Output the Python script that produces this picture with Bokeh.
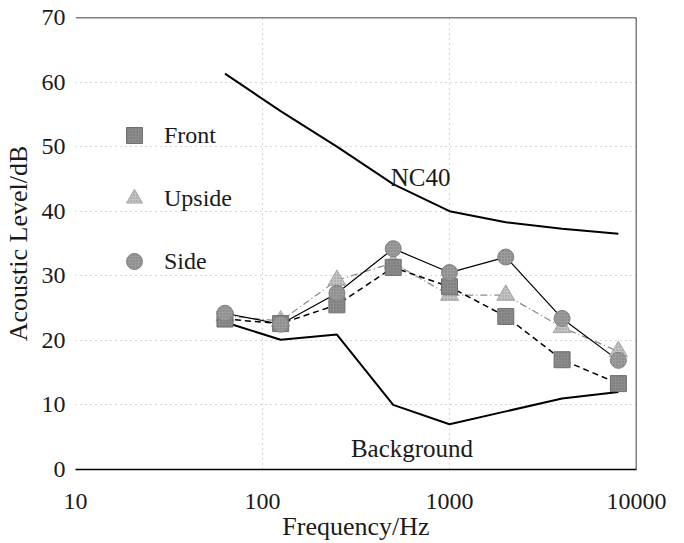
from bokeh.plotting import figure
from bokeh.models import (FixedTicker, NumeralTickFormatter, Span, Legend, LegendItem,
                          Label)
from bokeh.embed import file_html
from bokeh.resources import INLINE

# ---- data ----
freq = [63, 125, 250, 500, 1000, 2000, 4000, 8000]
nc40 = [61.3, 55.5, 50.0, 44.2, 40.0, 38.3, 37.3, 36.5]
background = [22.8, 20.1, 20.9, 10.0, 7.0, 9.0, 11.0, 12.0]
front = [23.3, 22.6, 25.5, 31.3, 28.3, 23.7, 17.0, 13.3]
upside = [23.8, 23.0, 29.3, 32.0, 27.0, 27.0, 22.0, 18.3]
side = [24.2, 22.5, 27.3, 34.2, 30.5, 32.9, 23.4, 16.9]
x_ticks = [10, 100, 1000, 10000]
y_ticks = [0, 10, 20, 30, 40, 50, 60, 70]
nc40_label = ("NC40", 700, 45.2)
bg_label = ("Background", 630, 3.3)

FONT = "Liberation Serif"

p = figure(width=684, height=543, x_axis_type="log", x_range=(10, 10000), y_range=(0, 70),
           output_backend="svg", toolbar_location=None,
           min_border_left=69, min_border_right=48, min_border_top=17, min_border_bottom=74)
p.outline_line_color = None
p.background_fill_color = "white"

# axes
p.xaxis.ticker = FixedTicker(ticks=x_ticks)
p.xaxis.formatter = NumeralTickFormatter(format="0")
p.yaxis.ticker = FixedTicker(ticks=y_ticks)
for ax in (p.xaxis[0], p.yaxis[0]):
    ax.major_tick_line_color = None
    ax.minor_tick_line_color = None
    ax.major_label_text_font = FONT
    ax.major_label_text_font_size = "24px"
    ax.major_label_text_color = "#1a1a1a"
    ax.axis_label_text_font = FONT
    ax.axis_label_text_font_size = "26px"
    ax.axis_label_text_font_style = "normal"
    ax.axis_label_text_color = "#1a1a1a"
p.xaxis.axis_label = "Frequency/Hz"
p.yaxis.axis_label = "Acoustic Level/dB"
p.xaxis.major_label_standoff = 18
p.xaxis.axis_label_standoff = 0
p.yaxis.major_label_standoff = 4
p.yaxis.axis_label_standoff = 6
p.xaxis.axis_line_color = "black"
p.xaxis.axis_line_width = 1.5
p.yaxis.axis_line_color = None

# grid
for g in (p.xgrid[0], p.ygrid[0]):
    g.grid_line_color = "#aaaaaa"
    g.grid_line_dash = "1 4"
    g.grid_line_width = 1

# frame top / right borders
p.add_layout(Span(location=70, dimension="width", line_color="black", line_width=1.5))
p.add_layout(Span(location=10000, dimension="height", line_color="black", line_width=1.5))

# reference lines
p.line(freq, nc40, line_color="black", line_width=2)
p.line(freq, background, line_color="black", line_width=2)

# measured series lines
p.line(freq, upside, line_color="#8a8a8a", line_width=1.2, line_dash="7 3 1 3")
p.line(freq, front, line_color="black", line_width=1.5, line_dash="6 4")
p.line(freq, side, line_color="black", line_width=1.2)

common = dict(hatch_pattern=".", hatch_color="#4a4a4a", hatch_alpha=0.45, hatch_scale=3)
r_up = p.scatter(freq, upside, marker="triangle", size=18, fill_color="#c4c4c4",
                 line_color="#a8a8a8", line_width=1, **common)
r_fr = p.scatter(freq, front, marker="square", size=16, fill_color="#8c8c8c",
                 line_color="#6e6e6e", line_width=1, **common)
r_si = p.scatter(freq, side, marker="circle", size=16, fill_color="#9c9c9c",
                 line_color="#808080", line_width=1, **common)

legend = Legend(items=[LegendItem(label="Front", renderers=[r_fr]),
                       LegendItem(label="Upside", renderers=[r_up]),
                       LegendItem(label="Side", renderers=[r_si])],
                location=(39, 188), glyph_width=40, glyph_height=40, spacing=23,
                label_standoff=10, padding=0, margin=0,
                label_text_font=FONT, label_text_font_size="24px", label_text_color="#1a1a1a",
                border_line_color=None, background_fill_alpha=0)
p.add_layout(legend, "center")

for txt, lx, ly in (nc40_label, bg_label):
    p.add_layout(Label(x=lx, y=ly, text=txt, text_font=FONT, text_font_size="25px",
                       text_align="center", text_baseline="alphabetic", text_color="#1a1a1a"))

open("out.html", "w").write(file_html(p, INLINE))
